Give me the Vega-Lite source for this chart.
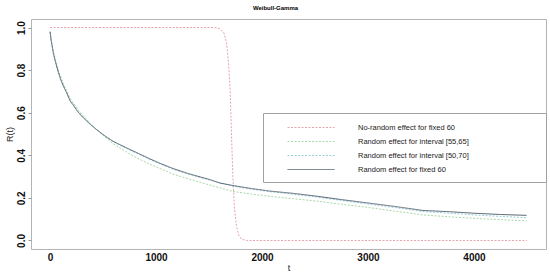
{
  "$schema": "https://vega.github.io/schema/vega-lite/v6.json",
  "width": 515,
  "height": 230,
  "autosize": {"type": "none"},
  "padding": {"left": 31, "top": 19, "right": 4, "bottom": 25},
  "background": "white",
  "title": {"text": "Weibull-Gamma", "fontSize": 6, "font": "Liberation Sans", "fontWeight": "bold", "color": "#000000", "anchor": "middle", "offset": 8, "dx": -13},
  "config": {
    "view": {"stroke": "#b4b4b4", "strokeWidth": 1},
    "axis": {"grid": false, "domain": false, "labelFont": "Liberation Sans", "labelFontWeight": "bold", "labelColor": "#111111", "labelFontSize": 10, "tickColor": "#9a9a9a", "tickSize": 3, "titleFont": "Liberation Sans", "titleFontWeight": "normal", "titleColor": "#222222", "titleFontSize": 9}
  },
  "data": {"values": [
    {"t": 0, "R": 1.0, "s": "No-random effect for fixed 60"},
    {"t": 800, "R": 1.0, "s": "No-random effect for fixed 60"},
    {"t": 1550, "R": 1.0, "s": "No-random effect for fixed 60"},
    {"t": 1600, "R": 0.995, "s": "No-random effect for fixed 60"},
    {"t": 1640, "R": 0.975, "s": "No-random effect for fixed 60"},
    {"t": 1665, "R": 0.93, "s": "No-random effect for fixed 60"},
    {"t": 1685, "R": 0.83, "s": "No-random effect for fixed 60"},
    {"t": 1700, "R": 0.7, "s": "No-random effect for fixed 60"},
    {"t": 1712, "R": 0.5, "s": "No-random effect for fixed 60"},
    {"t": 1725, "R": 0.3, "s": "No-random effect for fixed 60"},
    {"t": 1740, "R": 0.15, "s": "No-random effect for fixed 60"},
    {"t": 1758, "R": 0.07, "s": "No-random effect for fixed 60"},
    {"t": 1780, "R": 0.025, "s": "No-random effect for fixed 60"},
    {"t": 1810, "R": 0.005, "s": "No-random effect for fixed 60"},
    {"t": 1860, "R": 0.0, "s": "No-random effect for fixed 60"},
    {"t": 3000, "R": 0.0, "s": "No-random effect for fixed 60"},
    {"t": 4500, "R": 0.0, "s": "No-random effect for fixed 60"},

    {"t": 0, "R": 0.98, "s": "Random effect for interval [55,65]"},
    {"t": 10, "R": 0.945, "s": "Random effect for interval [55,65]"},
    {"t": 31, "R": 0.885, "s": "Random effect for interval [55,65]"},
    {"t": 78, "R": 0.8, "s": "Random effect for interval [55,65]"},
    {"t": 126, "R": 0.735, "s": "Random effect for interval [55,65]"},
    {"t": 189, "R": 0.668, "s": "Random effect for interval [55,65]"},
    {"t": 260, "R": 0.617, "s": "Random effect for interval [55,65]"},
    {"t": 314, "R": 0.585, "s": "Random effect for interval [55,65]"},
    {"t": 380, "R": 0.55, "s": "Random effect for interval [55,65]"},
    {"t": 440, "R": 0.52, "s": "Random effect for interval [55,65]"},
    {"t": 520, "R": 0.485, "s": "Random effect for interval [55,65]"},
    {"t": 594, "R": 0.455, "s": "Random effect for interval [55,65]"},
    {"t": 680, "R": 0.428, "s": "Random effect for interval [55,65]"},
    {"t": 755, "R": 0.405, "s": "Random effect for interval [55,65]"},
    {"t": 850, "R": 0.38, "s": "Random effect for interval [55,65]"},
    {"t": 943, "R": 0.358, "s": "Random effect for interval [55,65]"},
    {"t": 1050, "R": 0.335, "s": "Random effect for interval [55,65]"},
    {"t": 1160, "R": 0.312, "s": "Random effect for interval [55,65]"},
    {"t": 1300, "R": 0.29, "s": "Random effect for interval [55,65]"},
    {"t": 1509, "R": 0.26, "s": "Random effect for interval [55,65]"},
    {"t": 1726, "R": 0.23, "s": "Random effect for interval [55,65]"},
    {"t": 1900, "R": 0.218, "s": "Random effect for interval [55,65]"},
    {"t": 2075, "R": 0.207, "s": "Random effect for interval [55,65]"},
    {"t": 2300, "R": 0.196, "s": "Random effect for interval [55,65]"},
    {"t": 2516, "R": 0.185, "s": "Random effect for interval [55,65]"},
    {"t": 2750, "R": 0.17, "s": "Random effect for interval [55,65]"},
    {"t": 2987, "R": 0.156, "s": "Random effect for interval [55,65]"},
    {"t": 3250, "R": 0.138, "s": "Random effect for interval [55,65]"},
    {"t": 3519, "R": 0.12, "s": "Random effect for interval [55,65]"},
    {"t": 3773, "R": 0.111, "s": "Random effect for interval [55,65]"},
    {"t": 4000, "R": 0.104, "s": "Random effect for interval [55,65]"},
    {"t": 4250, "R": 0.098, "s": "Random effect for interval [55,65]"},
    {"t": 4497, "R": 0.092, "s": "Random effect for interval [55,65]"},

    {"t": 0, "R": 0.98, "s": "Random effect for interval [50,70]"},
    {"t": 10, "R": 0.94, "s": "Random effect for interval [50,70]"},
    {"t": 31, "R": 0.88, "s": "Random effect for interval [50,70]"},
    {"t": 78, "R": 0.792, "s": "Random effect for interval [50,70]"},
    {"t": 126, "R": 0.727, "s": "Random effect for interval [50,70]"},
    {"t": 189, "R": 0.66, "s": "Random effect for interval [50,70]"},
    {"t": 260, "R": 0.61, "s": "Random effect for interval [50,70]"},
    {"t": 314, "R": 0.58, "s": "Random effect for interval [50,70]"},
    {"t": 380, "R": 0.548, "s": "Random effect for interval [50,70]"},
    {"t": 440, "R": 0.521, "s": "Random effect for interval [50,70]"},
    {"t": 520, "R": 0.49, "s": "Random effect for interval [50,70]"},
    {"t": 594, "R": 0.464, "s": "Random effect for interval [50,70]"},
    {"t": 680, "R": 0.442, "s": "Random effect for interval [50,70]"},
    {"t": 755, "R": 0.424, "s": "Random effect for interval [50,70]"},
    {"t": 850, "R": 0.402, "s": "Random effect for interval [50,70]"},
    {"t": 943, "R": 0.38, "s": "Random effect for interval [50,70]"},
    {"t": 1050, "R": 0.357, "s": "Random effect for interval [50,70]"},
    {"t": 1160, "R": 0.335, "s": "Random effect for interval [50,70]"},
    {"t": 1300, "R": 0.312, "s": "Random effect for interval [50,70]"},
    {"t": 1509, "R": 0.283, "s": "Random effect for interval [50,70]"},
    {"t": 1726, "R": 0.255, "s": "Random effect for interval [50,70]"},
    {"t": 1900, "R": 0.241, "s": "Random effect for interval [50,70]"},
    {"t": 2075, "R": 0.229, "s": "Random effect for interval [50,70]"},
    {"t": 2300, "R": 0.217, "s": "Random effect for interval [50,70]"},
    {"t": 2516, "R": 0.204, "s": "Random effect for interval [50,70]"},
    {"t": 2750, "R": 0.188, "s": "Random effect for interval [50,70]"},
    {"t": 2987, "R": 0.172, "s": "Random effect for interval [50,70]"},
    {"t": 3250, "R": 0.155, "s": "Random effect for interval [50,70]"},
    {"t": 3519, "R": 0.136, "s": "Random effect for interval [50,70]"},
    {"t": 3773, "R": 0.128, "s": "Random effect for interval [50,70]"},
    {"t": 4000, "R": 0.12, "s": "Random effect for interval [50,70]"},
    {"t": 4250, "R": 0.113, "s": "Random effect for interval [50,70]"},
    {"t": 4497, "R": 0.107, "s": "Random effect for interval [50,70]"},

    {"t": 0, "R": 0.98, "s": "Random effect for fixed 60"},
    {"t": 10, "R": 0.94, "s": "Random effect for fixed 60"},
    {"t": 31, "R": 0.88, "s": "Random effect for fixed 60"},
    {"t": 50, "R": 0.84, "s": "Random effect for fixed 60"},
    {"t": 78, "R": 0.79, "s": "Random effect for fixed 60"},
    {"t": 100, "R": 0.755, "s": "Random effect for fixed 60"},
    {"t": 126, "R": 0.725, "s": "Random effect for fixed 60"},
    {"t": 160, "R": 0.69, "s": "Random effect for fixed 60"},
    {"t": 189, "R": 0.655, "s": "Random effect for fixed 60"},
    {"t": 220, "R": 0.635, "s": "Random effect for fixed 60"},
    {"t": 260, "R": 0.605, "s": "Random effect for fixed 60"},
    {"t": 314, "R": 0.576, "s": "Random effect for fixed 60"},
    {"t": 380, "R": 0.545, "s": "Random effect for fixed 60"},
    {"t": 440, "R": 0.52, "s": "Random effect for fixed 60"},
    {"t": 520, "R": 0.49, "s": "Random effect for fixed 60"},
    {"t": 594, "R": 0.466, "s": "Random effect for fixed 60"},
    {"t": 680, "R": 0.445, "s": "Random effect for fixed 60"},
    {"t": 755, "R": 0.427, "s": "Random effect for fixed 60"},
    {"t": 850, "R": 0.405, "s": "Random effect for fixed 60"},
    {"t": 943, "R": 0.383, "s": "Random effect for fixed 60"},
    {"t": 1050, "R": 0.36, "s": "Random effect for fixed 60"},
    {"t": 1160, "R": 0.338, "s": "Random effect for fixed 60"},
    {"t": 1300, "R": 0.315, "s": "Random effect for fixed 60"},
    {"t": 1420, "R": 0.298, "s": "Random effect for fixed 60"},
    {"t": 1509, "R": 0.286, "s": "Random effect for fixed 60"},
    {"t": 1600, "R": 0.27, "s": "Random effect for fixed 60"},
    {"t": 1726, "R": 0.258, "s": "Random effect for fixed 60"},
    {"t": 1900, "R": 0.244, "s": "Random effect for fixed 60"},
    {"t": 2075, "R": 0.232, "s": "Random effect for fixed 60"},
    {"t": 2300, "R": 0.221, "s": "Random effect for fixed 60"},
    {"t": 2516, "R": 0.208, "s": "Random effect for fixed 60"},
    {"t": 2750, "R": 0.192, "s": "Random effect for fixed 60"},
    {"t": 2987, "R": 0.177, "s": "Random effect for fixed 60"},
    {"t": 3250, "R": 0.16, "s": "Random effect for fixed 60"},
    {"t": 3519, "R": 0.141, "s": "Random effect for fixed 60"},
    {"t": 3773, "R": 0.135, "s": "Random effect for fixed 60"},
    {"t": 4000, "R": 0.128, "s": "Random effect for fixed 60"},
    {"t": 4250, "R": 0.122, "s": "Random effect for fixed 60"},
    {"t": 4497, "R": 0.118, "s": "Random effect for fixed 60"}
  ]},
  "mark": {"type": "line", "strokeWidth": 1, "clip": true},
  "encoding": {
    "x": {"field": "t", "type": "quantitative", "scale": {"domain": [-180, 4680], "nice": false, "zero": false},
      "axis": {"values": [0, 1000, 2000, 3000, 4000], "format": "d", "title": "t", "labelPadding": 3, "titlePadding": 1, "ticks": false}},
    "y": {"field": "R", "type": "quantitative", "scale": {"domain": [-0.04, 1.04], "nice": false, "zero": false},
      "axis": {"values": [0, 0.2, 0.4, 0.6, 0.8, 1.0], "format": ".1f", "title": "R(t)", "labelAngle": 270, "labelAlign": "center", "labelBaseline": "bottom", "labelPadding": 2, "titlePadding": 2}},
    "color": {"field": "s", "type": "nominal",
      "scale": {"domain": ["No-random effect for fixed 60", "Random effect for interval [55,65]", "Random effect for interval [50,70]", "Random effect for fixed 60"],
                "range": ["#e8a2ac", "#a9d9a9", "#98cdd9", "#5b6672"]},
      "legend": {"orient": "none", "legendX": 232, "legendY": 94, "title": " ", "titleOrient": "right", "titlePadding": 68,
        "strokeColor": "#a0a0a0", "fillColor": "white", "padding": 9, "rowPadding": 5,
        "symbolType": "M2,0H11.4", "symbolSize": 100, "symbolStrokeWidth": 1, "symbolFillColor": "transparent",
        "labelFont": "Liberation Sans", "labelFontSize": 7.5, "labelColor": "#222222", "labelOffset": 75}},
    "strokeDash": {"field": "s", "type": "nominal",
      "scale": {"domain": ["No-random effect for fixed 60", "Random effect for interval [55,65]", "Random effect for interval [50,70]", "Random effect for fixed 60"],
                "range": [[2, 1.5], [2, 1.5], [2, 1.5], [1, 0]]},
      "legend": null}
  }
}
